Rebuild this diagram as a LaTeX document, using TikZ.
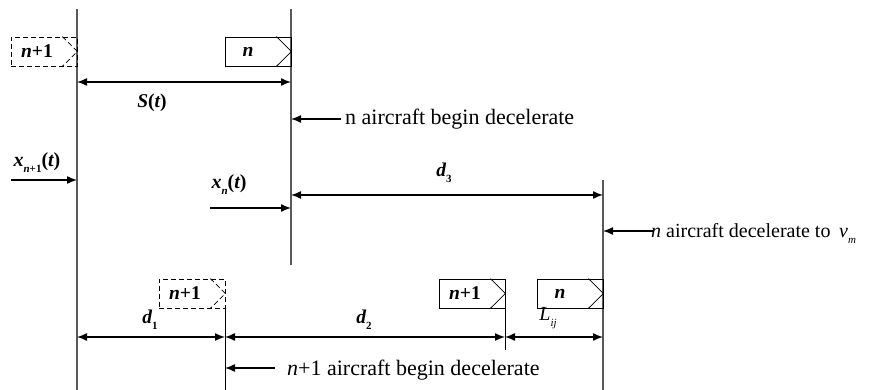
\documentclass[tikz,border=0pt]{standalone}
\usepackage{fontspec}
\setmainfont{Liberation Serif}
\usetikzlibrary{arrows.meta}
\newcommand{\bim}[1]{{\bfseries\itshape #1}}
\newcommand{\bup}[1]{{\bfseries\upshape #1}}
\newcommand{\lowsub}[1]{\raisebox{-0.3em}{\fontsize{11}{11}\selectfont #1}}
\begin{document}
\begin{tikzpicture}[x=1pt,y=-1pt,
  vline/.style={draw=black!65, line width=1.2pt},
  tline/.style={draw=black, line width=0.9pt},
  dim/.style={line width=1.4pt, {Latex[length=10pt,width=8pt]}-{Latex[length=10pt,width=8pt]}},
  ptr/.style={line width=1.4pt, -{Latex[length=10pt,width=8pt]}},
  plane/.style={draw, line width=0.8pt, minimum width=66pt, minimum height=29pt, inner sep=0pt},
  dsh/.style={dash pattern=on 5pt off 3pt},
  chev/.style={line width=0.8pt},
  lbl/.style={font=\fontsize{19.5}{19.5}\selectfont, inner sep=0pt},
  xlbl/.style={font=\fontsize{20}{20}\selectfont, inner sep=0pt},
  txt/.style={font=\fontsize{22}{22}\selectfont, inner sep=0pt, anchor=base west}]
\useasboundingbox (0,0) rectangle (887,390);

% vertical reference lines
\coordinate (L1t) at (77,9);   \coordinate (L1b) at (77,390);
\coordinate (L2t) at (291,9);  \coordinate (L2b) at (291,265);
\coordinate (L3t) at (603,180);\coordinate (L3b) at (603,390);
\coordinate (L4t) at (225,308);\coordinate (L4b) at (225,390);
\coordinate (L5t) at (505,308);\coordinate (L5b) at (505,350);
\draw[vline] (L1t) -- (L1b);
\draw[vline] (L2t) -- (L2b);
\draw[vline] (L3t) -- (L3b);
\draw[tline] (L4t) -- (L4b);
\draw[tline] (L5t) -- (L5b);

% aircraft boxes
\node[plane, dsh] (p1) at (44,51.5) {};
\node[plane] (p2) at (258,51.5) {};
\node[plane, dsh] (p3) at (192,293.5) {};
\node[plane] (p4) at (472,293.5) {};
\node[plane] (p5) at (570,293.5) {};
\foreach \p/\s in {p1/dsh,p2/solid,p3/dsh,p4/solid,p5/solid}{
  \draw[chev,\s] ([xshift=-15pt]\p.north east) -- (\p.east) -- ([xshift=-15pt]\p.south east);
}
\node[lbl] (t1) at ([xshift=-7pt]p1.center) {\bim{n}\bup{+1}};
\node[lbl] (t2) at ([xshift=-10pt]p2.center) {\bim{n}};
\node[lbl] (t3) at ([xshift=-7pt]p3.center) {\bim{n}\bup{+1}};
\node[lbl] (t4) at ([xshift=-7pt]p4.center) {\bim{n}\bup{+1}};
\node[lbl] (t5) at ([xshift=-10pt]p5.center) {\bim{n}};

% S(t)
\coordinate (s1) at (77,82); \coordinate (s2) at (291,82);
\draw[dim] (s1) -- (s2);
\node[lbl] (St) at (152,103) {\bim{S}\bup{(}\bim{t}\bup{)}};

% n aircraft begin decelerate
\coordinate (a1) at (341,119); \coordinate (a2) at (291,119);
\draw[ptr] (a1) -- (a2);
\node[txt] (ta) at (345,125) {n aircraft begin decelerate};

% x_{n+1}(t)
\node[xlbl] (xn1) at (37,163) {\bim{x}\lowsub{\bim{n}\bup{+1}}\bup{(}\bim{t}\bup{)}};
\coordinate (b1) at (11,180); \coordinate (b2) at (77,180);
\draw[ptr] (b1) -- (b2);

% x_n(t)
\node[xlbl] (xn) at (229,185) {\bim{x}\lowsub{\bim{n}}\bup{(}\bim{t}\bup{)}};
\coordinate (c1) at (210,208); \coordinate (c2) at (291,208);
\draw[ptr] (c1) -- (c2);

% d3
\coordinate (e1) at (291,195); \coordinate (e2) at (603,195);
\draw[dim] (e1) -- (e2);
\node[lbl] (d3) at (444,173) {\bim{d}\lowsub{\bup{3}}};

% n aircraft decelerate to v_m
\coordinate (f1) at (653,231); \coordinate (f2) at (603,231);
\draw[ptr] (f1) -- (f2);
\node[txt, font=\fontsize{20}{20}\selectfont] (tf) at (651,238) {\textit{n} aircraft decelerate to};
\node[txt, font=\fontsize{20}{20}\selectfont] (vm) at (839,238) {\textit{v}\lowsub{\textit{m}}};

% d1, d2, L_ij
\coordinate (g1) at (77,337); \coordinate (g2) at (225,337);
\coordinate (g3) at (505,337); \coordinate (g4) at (603,337);
\draw[dim] (g1) -- (g2);
\draw[dim] (g2) -- (g3);
\draw[dim] (g3) -- (g4);
\node[lbl] (d1) at (150,320) {\bim{d}\lowsub{\bup{1}}};
\node[lbl] (d2) at (364,320) {\bim{d}\lowsub{\bup{2}}};
\node[xlbl] (lij) at (548,318) {\textit{L}\lowsub{\textit{ij}}};

% n+1 aircraft begin decelerate
\coordinate (h1) at (275,368); \coordinate (h2) at (225,368);
\draw[ptr] (h1) -- (h2);
\node[txt] (th) at (287,375) {\textit{n}+1 aircraft begin decelerate};
\end{tikzpicture}
\end{document}
